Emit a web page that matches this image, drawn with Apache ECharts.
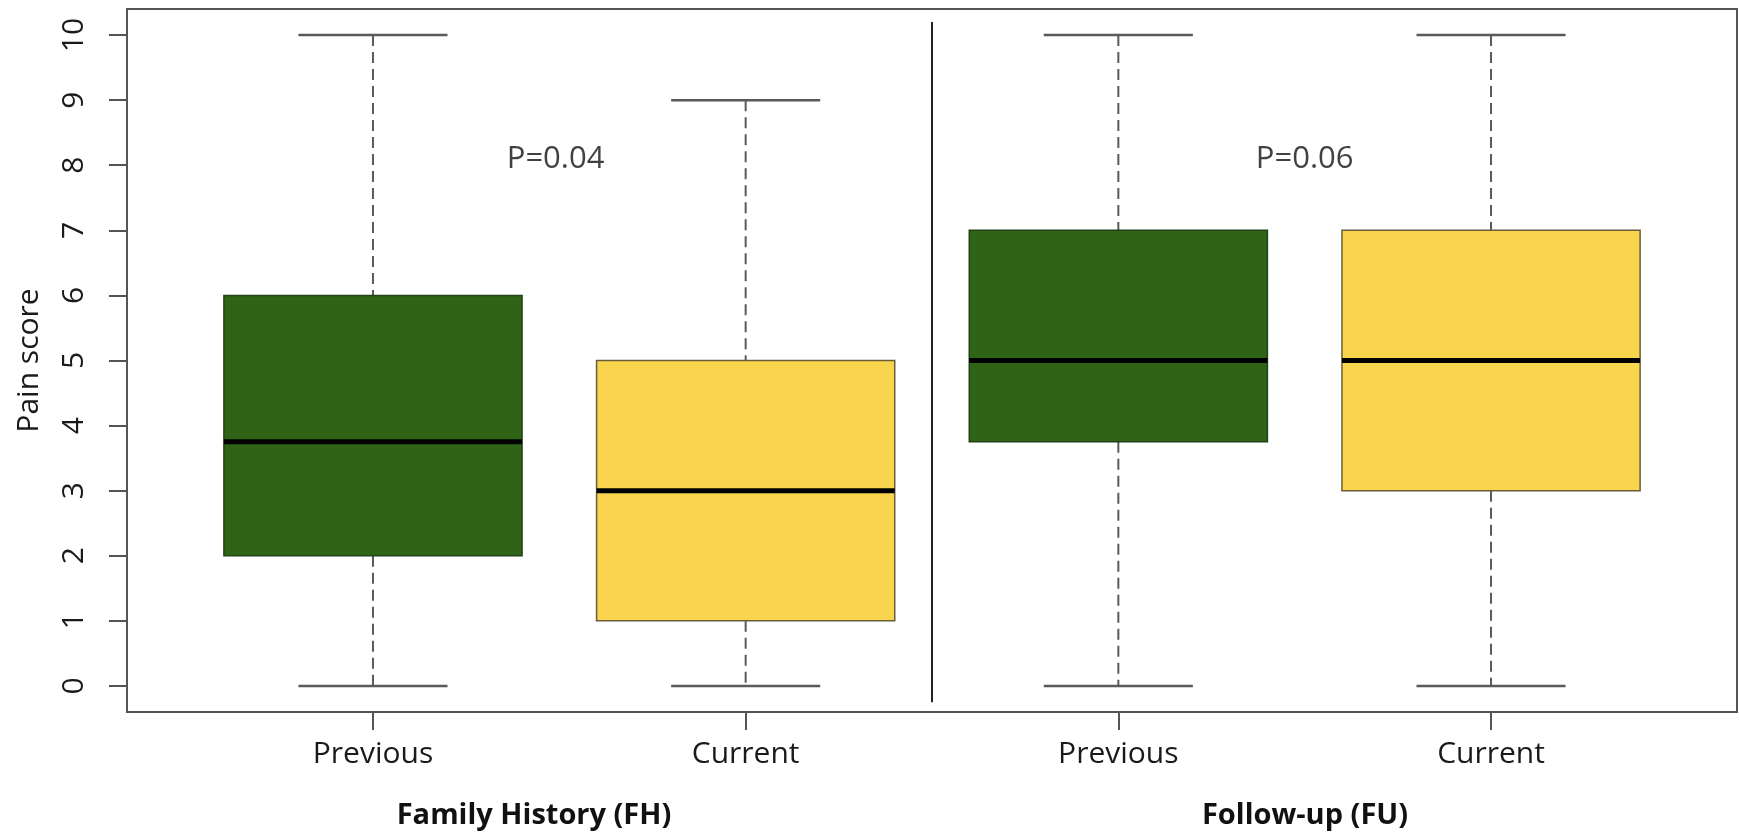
<!DOCTYPE html>
<html>
<head>
<meta charset="utf-8">
<script src="https://cdn.jsdelivr.net/npm/echarts@6/dist/echarts.min.js"></script>
<style>
html,body{margin:0;padding:0;background:#fff;}
#chart{width:1739px;height:840px;}
</style>
</head>
<body>
<div id="chart"></div>
<script>
// ---- data ----
const categories = ['Previous', 'Current', 'Previous', 'Current'];
const groupLabels = ['Family History (FH)', 'Follow-up (FU)'];
const yTicks = [0, 1, 2, 3, 4, 5, 6, 7, 8, 9, 10];
const whiskerLow = [0, 0, 0, 0];
const q1 = [2, 1, 3.75, 3];
const medians = [3.75, 3, 5, 5];
const q3 = [6, 5, 7, 7];
const whiskerHigh = [10, 9, 10, 10];
const pLabels = ['P=0.04', 'P=0.06'];
const pX = [1.49, 3.5];
const pY = [8.1, 8.1];

// ---- styles ----
const FONT = '"Open Sans", "Liberation Sans", sans-serif';
const fills = ['#2F6316', '#F8D54C', '#2F6316', '#F8D54C'];
const borders = ['#24421a', '#6a5d3a', '#24421a', '#6a5d3a'];
const boxWidth = 0.8;
const capWidth = 0.4;

const boxData = categories.map((c, i) => [i + 1, whiskerLow[i], q1[i], medians[i], q3[i], whiskerHigh[i]]);

function renderBox(params, api) {
  const x = api.value(0);
  const lo = api.coord([x, api.value(1)]);
  const b1 = api.coord([x, api.value(2)]);
  const md = api.coord([x, api.value(3)]);
  const b3 = api.coord([x, api.value(4)]);
  const hi = api.coord([x, api.value(5)]);
  const w = api.size([boxWidth, 0])[0];
  const cw = api.size([capWidth, 0])[0];
  const i = params.dataIndex;
  const dash = {stroke: '#5a5a5a', lineWidth: 2, lineDash: [11, 6]};
  const cap = {stroke: '#5a5a5a', lineWidth: 2.5};
  return {
    type: 'group',
    children: [
      {type: 'line', shape: {x1: hi[0], y1: hi[1], x2: b3[0], y2: b3[1]}, style: dash},
      {type: 'line', shape: {x1: b1[0], y1: b1[1], x2: lo[0], y2: lo[1]}, style: dash},
      {type: 'line', shape: {x1: hi[0] - cw / 2, y1: hi[1], x2: hi[0] + cw / 2, y2: hi[1]}, style: cap},
      {type: 'line', shape: {x1: lo[0] - cw / 2, y1: lo[1], x2: lo[0] + cw / 2, y2: lo[1]}, style: cap},
      {type: 'rect', shape: {x: b3[0] - w / 2, y: b3[1], width: w, height: b1[1] - b3[1]},
        style: {fill: fills[i], stroke: borders[i], lineWidth: 1.5}},
      {type: 'line', shape: {x1: md[0] - w / 2, y1: md[1], x2: md[0] + w / 2, y2: md[1]},
        style: {stroke: '#000', lineWidth: 5}}
    ]
  };
}

const chart = echarts.init(document.getElementById('chart'), null, {renderer: 'canvas'});
chart.setOption({
  animation: false,
  backgroundColor: '#fff',
  grid: {left: 127, right: 2, top: 9, bottom: 128, show: true, borderColor: '#555', borderWidth: 2},
  xAxis: {
    type: 'value', min: 0.34, max: 4.66,
    splitLine: {show: false},
    axisLine: {show: false, onZero: false},
    axisTick: {show: true, customValues: [1, 2, 3, 4], length: 18, lineStyle: {color: '#555', width: 2}},
    axisLabel: {customValues: [1, 2, 3, 4], formatter: v => categories[Math.round(v) - 1],
      fontFamily: FONT, fontSize: 30, color: '#1a1a1a', margin: 27}
  },
  yAxis: {
    type: 'value', min: -0.4, max: 10.4,
    name: 'Pain score', nameLocation: 'middle', nameRotate: 90, nameGap: 83,
    nameTextStyle: {fontFamily: FONT, fontSize: 30, color: '#1a1a1a'},
    splitLine: {show: false},
    axisLine: {show: false, onZero: false},
    axisTick: {show: true, customValues: yTicks, length: 18, lineStyle: {color: '#555', width: 2}},
    axisLabel: {customValues: yTicks, rotate: 90, fontFamily: FONT, fontSize: 30, color: '#1a1a1a', margin: 38}
  },
  series: [
    {
      type: 'custom', renderItem: renderBox, data: boxData, clip: false,
      encode: {x: 0, y: [1, 2, 3, 4, 5]}
    },
    {
      type: 'line', data: [[2.5, 10.2], [2.5, -0.25]], symbol: 'none',
      lineStyle: {color: '#222', width: 2}, silent: true
    },
    {
      type: 'scatter', symbolSize: 0, silent: true,
      data: pLabels.map((t, i) => [pX[i], pY[i], t]),
      label: {show: true, position: 'inside', formatter: p => p.data[2],
        fontFamily: FONT, fontSize: 31, color: '#111', textBorderWidth: 0}
    }
  ],
  graphic: [
    {type: 'text', x: 534, y: 816, style: {text: groupLabels[0], font: 'bold 29px ' + FONT, fill: '#111', textAlign: 'center', textVerticalAlign: 'middle'}},
    {type: 'text', x: 1305, y: 816, style: {text: groupLabels[1], font: 'bold 29px ' + FONT, fill: '#111', textAlign: 'center', textVerticalAlign: 'middle'}}
  ]
});
</script>
</body>
</html>
